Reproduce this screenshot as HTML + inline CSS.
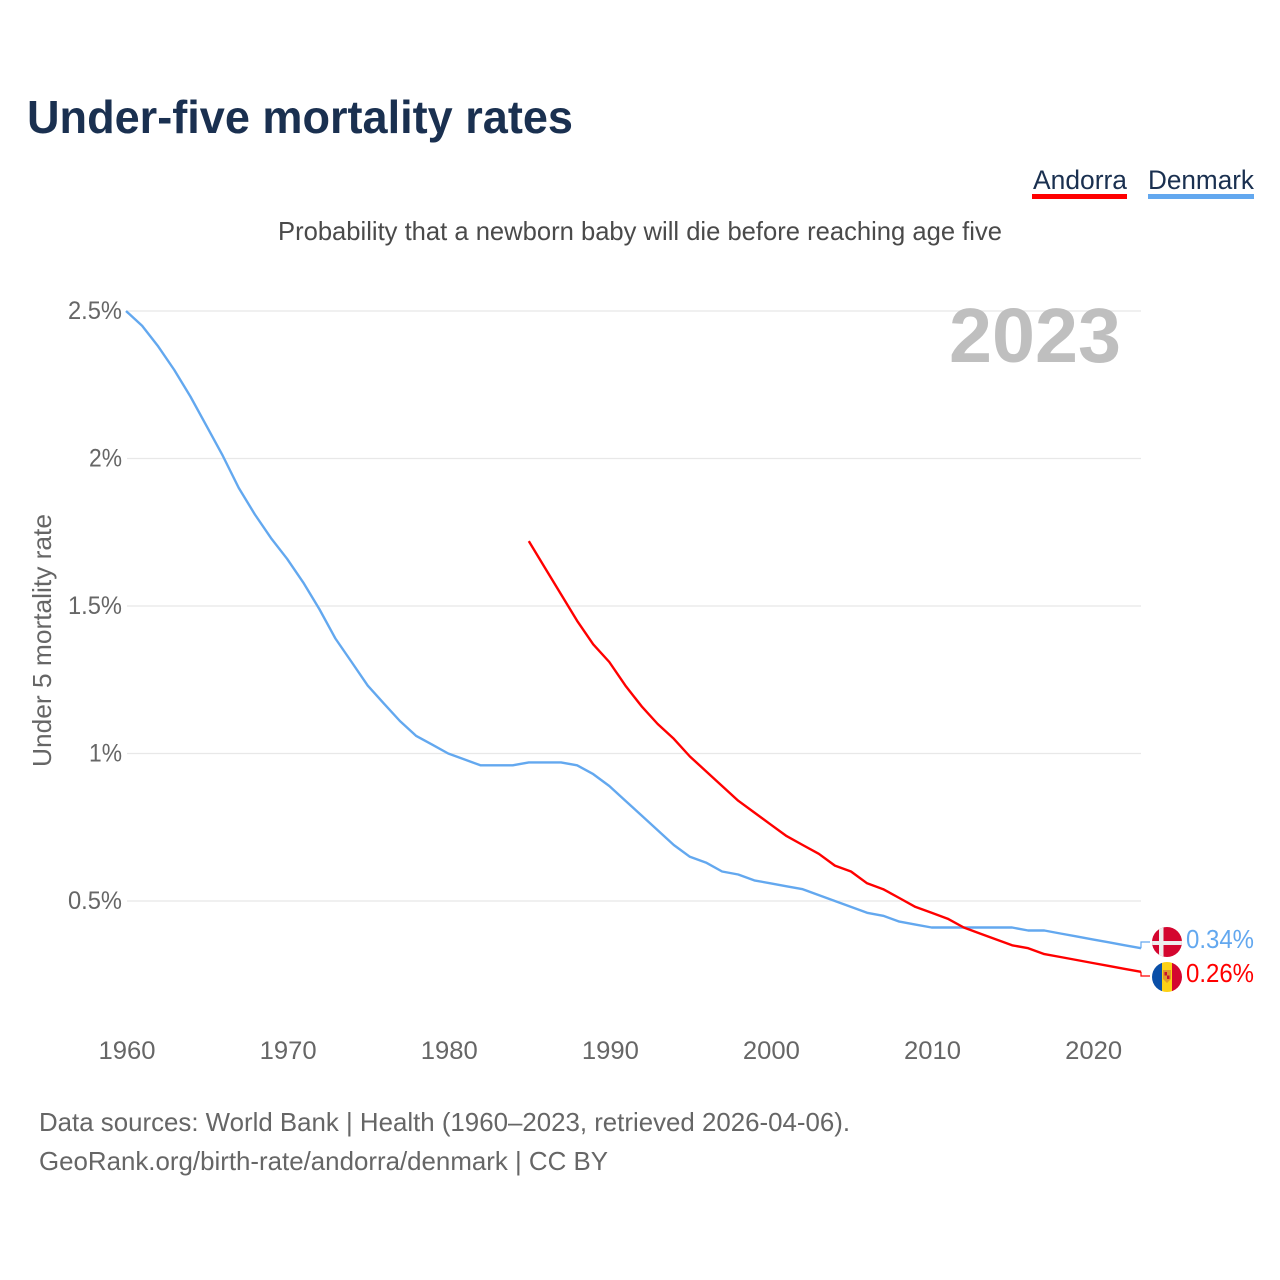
<!DOCTYPE html>
<html lang="en">
<head>
<meta charset="utf-8">
<title>Under-five mortality rates</title>
<style>
html,body{margin:0;padding:0;background:#fff}
svg{display:block}
text{font-family:"Liberation Sans",sans-serif}
</style>
</head>
<body>
<svg id="chart" width="1280" height="1280" viewBox="0 0 1280 1280" xmlns="http://www.w3.org/2000/svg">
<defs>
<clipPath id="flag-dk-clip"><circle cx="1167" cy="942" r="15"/></clipPath>
<clipPath id="flag-ad-clip"><circle cx="1167" cy="977" r="15"/></clipPath>
</defs>
<text x="27" y="133" font-size="46" font-weight="700" fill="#1a3050" textLength="546" lengthAdjust="spacingAndGlyphs">Under-five mortality rates</text>
<g>
<text x="1033" y="189" font-size="27" fill="#1a3050" textLength="94" lengthAdjust="spacingAndGlyphs">Andorra</text>
<rect x="1032" y="194" width="95" height="5" fill="#ff0000"/>
</g>
<g>
<text x="1148" y="189" font-size="27" fill="#1a3050" textLength="106" lengthAdjust="spacingAndGlyphs">Denmark</text>
<rect x="1148" y="194" width="106" height="5" fill="#63a8ef"/>
</g>
<text x="278" y="240" font-size="26" fill="#4a4a4a" textLength="724" lengthAdjust="spacingAndGlyphs">Probability that a newborn baby will die before reaching age five</text>
<g id="grid"></g>
<g id="y-ticks"></g>
<g id="x-ticks"></g>
<text x="949" y="362" font-size="77" font-weight="700" fill="#bfbfbf" textLength="172" lengthAdjust="spacingAndGlyphs">2023</text>
<text transform="translate(51 767) rotate(-90)" x="0" y="0" font-size="26" fill="#666666" textLength="253" lengthAdjust="spacingAndGlyphs">Under 5 mortality rate</text>
<g id="series"></g>
<g clip-path="url(#flag-dk-clip)">
<rect x="1152" y="927" width="30" height="30" fill="#d4062f"/>
<rect x="1159" y="927" width="4.5" height="30" fill="#eeeeee"/>
<rect x="1152" y="941" width="30" height="4" fill="#eeeeee"/>
</g>
<g clip-path="url(#flag-ad-clip)">
<rect x="1152" y="962" width="10" height="30" fill="#0a4fa8"/>
<rect x="1162" y="962" width="10" height="30" fill="#fcd116"/>
<rect x="1172" y="962" width="10" height="30" fill="#d4062f"/>
<path d="M1163 970h8v9l-4 4l-4-4z" fill="#e0992a"/>
<rect x="1164.5" y="972" width="2.5" height="3.5" fill="#c8102e"/>
<rect x="1167" y="975.5" width="2.5" height="3.5" fill="#c8102e"/>
</g>
<text x="1186" y="948" font-size="26" fill="#63a8ef" textLength="68" lengthAdjust="spacingAndGlyphs">0.34%</text>
<text x="1186" y="982" font-size="26" fill="#ff0000" textLength="68" lengthAdjust="spacingAndGlyphs">0.26%</text>
<text x="39" y="1131" font-size="26" fill="#666666" textLength="811" lengthAdjust="spacingAndGlyphs">Data sources: World Bank | Health (1960–2023, retrieved 2026-04-06).</text>
<text x="39" y="1170" font-size="26" fill="#666666" textLength="569" lengthAdjust="spacingAndGlyphs">GeoRank.org/birth-rate/andorra/denmark | CC BY</text>
</svg>
<script>
const yTickValues = [0.5, 1, 1.5, 2, 2.5];
const yTickLabels = ["0.5%", "1%", "1.5%", "2%", "2.5%"];
const xTickValues = [1960, 1970, 1980, 1990, 2000, 2010, 2020];
const denmarkStartYear = 1960;
const denmarkValues = [2.5,2.45,2.38,2.30,2.21,2.11,2.01,1.90,1.81,1.73,1.66,1.58,1.49,1.39,1.31,1.23,1.17,1.11,1.06,1.03,1.00,0.98,0.96,0.96,0.96,0.97,0.97,0.97,0.96,0.93,0.89,0.84,0.79,0.74,0.69,0.65,0.63,0.60,0.59,0.57,0.56,0.55,0.54,0.52,0.50,0.48,0.46,0.45,0.43,0.42,0.41,0.41,0.41,0.41,0.41,0.41,0.40,0.40,0.39,0.38,0.37,0.36,0.35,0.34];
const andorraStartYear = 1985;
const andorraValues = [1.72,1.63,1.54,1.45,1.37,1.31,1.23,1.16,1.10,1.05,0.99,0.94,0.89,0.84,0.80,0.76,0.72,0.69,0.66,0.62,0.60,0.56,0.54,0.51,0.48,0.46,0.44,0.41,0.39,0.37,0.35,0.34,0.32,0.31,0.30,0.29,0.28,0.27,0.26];

const NS = "http://www.w3.org/2000/svg";
const xScale = function (year) { return 126 + (year - 1960) * (1141 - 126) / 63; };
const yScale = function (v) { return 1048.5 - v * 295; };

function makeEl(tag, parent) {
  const el = document.createElementNS(NS, tag);
  parent.appendChild(el);
  return el;
}

const grid = document.getElementById("grid");
const yTicks = document.getElementById("y-ticks");
yTickValues.forEach(function (v, i) {
  const line = makeEl("line", grid);
  
  
  line.setAttribute("x1", 127);
  line.setAttribute("x2", 1141);
  line.setAttribute("y1", yScale(v));
  line.setAttribute("y2", yScale(v));
  line.setAttribute("stroke", "#e8e8e8");
  line.setAttribute("stroke-width", "1.2");
  const t = makeEl("text", yTicks);
  
  
  const label = yTickLabels[i];
  const w = label.length === 4 ? 54 : 33;
  t.setAttribute("x", 122 - w);
  t.setAttribute("y", yScale(v) + 8);
  t.setAttribute("font-size", "25");
  t.setAttribute("fill", "#666666");
  t.setAttribute("textLength", w);
  t.setAttribute("lengthAdjust", "spacingAndGlyphs");
  t.textContent = label;
});

const xTicks = document.getElementById("x-ticks");
xTickValues.forEach(function (year) {
  const t = makeEl("text", xTicks);
  
  
  t.setAttribute("x", xScale(year) - 27.5);
  t.setAttribute("y", 1059);
  t.setAttribute("font-size", "25");
  t.setAttribute("fill", "#666666");
  t.setAttribute("textLength", 57);
  t.setAttribute("lengthAdjust", "spacingAndGlyphs");
  t.textContent = String(year);
});

const series = document.getElementById("series");
function drawSeries(name, startYear, values, color, flagY) {
  const pts = values.map(function (v, i) {
    return xScale(startYear + i).toFixed(1) + "," + yScale(v).toFixed(1);
  });
  const line = makeEl("polyline", series);
  
  
  line.setAttribute("points", pts.join(" "));
  line.setAttribute("fill", "none");
  line.setAttribute("stroke", color);
  line.setAttribute("stroke-width", "2.4");
  line.setAttribute("stroke-linejoin", "round");
  line.setAttribute("id", "line-" + name);
  const endX = xScale(startYear + values.length - 1);
  const endY = yScale(values[values.length - 1]);
  const conn = makeEl("polyline", series);
  
  
  conn.setAttribute("points", endX + "," + endY + " " + endX + "," + flagY + " " + (endX + 9) + "," + flagY);
  conn.setAttribute("fill", "none");
  conn.setAttribute("stroke", color);
  conn.setAttribute("stroke-width", "1.2");
}
drawSeries("denmark", denmarkStartYear, denmarkValues, "#63a8ef", 942);
drawSeries("andorra", andorraStartYear, andorraValues, "#ff0000", 976);
</script>
</body>
</html>
